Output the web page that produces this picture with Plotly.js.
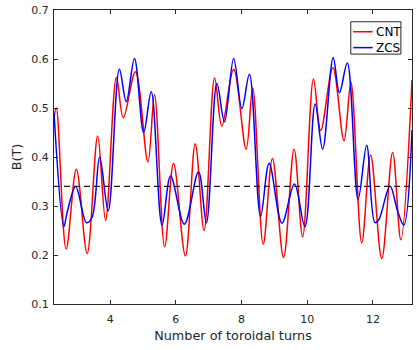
<!DOCTYPE html>
<html>
<head>
<meta charset="utf-8">
<script src="https://cdn.plot.ly/plotly-3.0.1.min.js"></script>
<style>
html,body{margin:0;padding:0;background:#fff;}
#chart{width:417px;height:350px;}
</style>
</head>
<body>
<div id="chart"></div>
<script>
// Number of toroidal turns (x) and field B (T)
var cntX = [2.29, 2.36, 2.66, 2.97, 3.30, 3.62, 3.86, 4.19, 4.40, 4.77, 5.15, 5.35, 5.66, 5.93, 6.29, 6.59, 6.86, 7.18, 7.40, 7.76, 8.14, 8.34, 8.66, 8.94, 9.28, 9.60, 9.86, 10.19, 10.41, 10.78, 11.12, 11.33, 11.66, 11.93, 12.27, 12.60, 12.85, 13.19];
var cntY = [0.48, 0.50, 0.212, 0.375, 0.203, 0.443, 0.271, 0.562, 0.480, 0.574, 0.39, 0.527, 0.217, 0.387, 0.198, 0.427, 0.25, 0.561, 0.463, 0.579, 0.416, 0.541, 0.222, 0.397, 0.195, 0.416, 0.237, 0.559, 0.454, 0.582, 0.433, 0.552, 0.225, 0.404, 0.193, 0.409, 0.231, 0.557];

var zcsX = [2.29, 2.59, 2.69, 2.95, 3.28, 3.45, 3.68, 3.94, 4.28, 4.49, 4.74, 5.02, 5.25, 5.58, 5.84, 6.26, 6.69, 6.93, 7.25, 7.48, 7.76, 8.01, 8.24, 8.58, 8.84, 9.23, 9.61, 9.93, 10.24, 10.47, 10.79, 10.98, 11.22, 11.55, 11.81, 12.06, 12.18, 12.52, 12.75, 12.94, 13.19];
var zcsY = [0.49, 0.258, 0.287, 0.340, 0.266, 0.277, 0.40, 0.29, 0.579, 0.513, 0.601, 0.45, 0.533, 0.261, 0.361, 0.263, 0.37, 0.266, 0.55, 0.472, 0.601, 0.499, 0.569, 0.279, 0.387, 0.265, 0.345, 0.258, 0.508, 0.416, 0.603, 0.531, 0.592, 0.314, 0.424, 0.266, 0.272, 0.341, 0.29, 0.261, 0.455];

var refLevel = 0.34;
var xRange = [2.29, 13.19];
var yRange = [0.1, 0.7];
var xTicks = [4, 6, 8, 10, 12];
var yTicks = [0.1, 0.2, 0.3, 0.4, 0.5, 0.6, 0.7];
var seriesNames = ['CNT', 'ZCS'];
var seriesColors = ['#ff0000', '#0000ff'];

var axisColor = '#262626';
var font = 'DejaVu Sans, Liberation Sans, Arial, sans-serif';

var traces = [
  {x: cntX, y: cntY, name: seriesNames[0], mode: 'lines', showlegend: false,
   line: {color: seriesColors[0], width: 1.5, shape: 'spline', smoothing: 1}},
  {x: zcsX, y: zcsY, name: seriesNames[1], mode: 'lines', showlegend: false,
   line: {color: seriesColors[1], width: 1.5, shape: 'spline', smoothing: 1}},
  {x: xRange, y: [refLevel, refLevel], mode: 'lines', showlegend: false, hoverinfo: 'skip',
   line: {color: '#1a1a1a', width: 1.3, dash: '6px,4px'}}
];

// legend box (paper coordinates)
var lg = {x0: 0.829, x1: 0.969, y0: 0.850, y1: 0.960, lineX0: 0.836, lineX1: 0.890, textX: 0.894, rows: [0.926, 0.872]};
var shapes = [{type: 'rect', xref: 'paper', yref: 'paper', x0: lg.x0, x1: lg.x1, y0: lg.y0, y1: lg.y1,
  fillcolor: '#ffffff', line: {color: axisColor, width: 1}, layer: 'above'}];
var annotations = [];
seriesNames.forEach(function(n, i){
  shapes.push({type: 'line', xref: 'paper', yref: 'paper', x0: lg.lineX0, x1: lg.lineX1, y0: lg.rows[i], y1: lg.rows[i],
    line: {color: seriesColors[i], width: 1.5}, layer: 'above'});
  annotations.push({xref: 'paper', yref: 'paper', x: lg.textX, y: lg.rows[i], xanchor: 'left', yanchor: 'middle',
    text: n, showarrow: false, font: {family: font, size: 12, color: '#000000'}});
});

var axisCommon = {
  showgrid: false, zeroline: false, showline: true, linecolor: axisColor, linewidth: 1,
  mirror: 'ticks', ticks: 'inside', ticklen: 4, tickcolor: axisColor, tickwidth: 1,
  tickfont: {family: font, size: 11, color: axisColor}
};

var layout = {
  width: 417, height: 350,
  margin: {l: 54, r: 5, t: 10, b: 46, pad: 0},
  paper_bgcolor: '#ffffff', plot_bgcolor: '#ffffff',
  font: {family: font, color: axisColor},
  showlegend: false,
  shapes: shapes,
  annotations: annotations,
  xaxis: Object.assign({}, axisCommon, {
    range: xRange, tickmode: 'array', tickvals: xTicks, ticktext: xTicks.map(String),
    ticklabelstandoff: 5,
    title: {text: 'Number of toroidal turns', font: {family: font, size: 12.8, color: axisColor}, standoff: 5}
  }),
  yaxis: Object.assign({}, axisCommon, {
    range: yRange, tickmode: 'array', tickvals: yTicks, ticktext: yTicks.map(function(v){return v.toFixed(1);}),
    ticklabelstandoff: 2,
    title: {text: 'B(T)', font: {family: font, size: 12.8, color: axisColor}, standoff: 6}
  })
};

Plotly.newPlot('chart', traces, layout, {displayModeBar: false, staticPlot: true});
</script>
</body>
</html>
